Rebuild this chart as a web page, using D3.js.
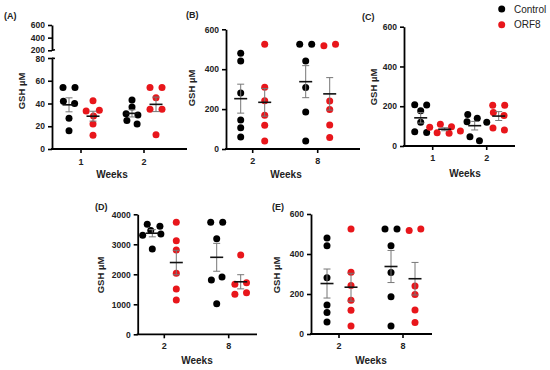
<!DOCTYPE html>
<html>
<head>
<meta charset="utf-8">
<script src="https://cdn.jsdelivr.net/npm/d3@7"></script>
<style>
  body { margin: 0; background: #fff; }
  text { font-family: Arial, "Liberation Sans", sans-serif; }
</style>
</head>
<body>
<div id="chart"></div>
<script>
// ---- data ----
const groups = ["Control", "ORF8"];
const groupColors = ["#000000", "#e8161b"];

// (A)
const weeksA = ["1", "2"];
const aControl1 = [54, 54, 42, 40, 27, 16];
const aOrf1 = [42.5, 34, 33.5, 29, 22, 12];
const aControl2 = [43, 37, 31, 30, 25, 22];
const aOrf2 = [54, 54, 45, 35, 35, 12.5];

// (B) and (E)
const weeksB = ["2", "8"];
const bControl2 = [480, 441, 281, 145, 107, 60];
const bOrf2 = [525, 309, 242, 169, 119, 40];
const bControl8 = [525, 525, 441, 308, 186, 40];
const bOrf8 = [517, 525, 240, 198, 120, 58];

// (C)
const weeksC = ["1", "2"];
const cControl1 = [208, 206, 177, 119, 72, 68];
const cOrf1 = [109, 97, 94, 75, 67, 64];
const cControl2 = [159, 139, 122, 119, 47, 27];
const cOrf2 = [205, 205, 169, 154, 90, 80];

// (D)
const weeksD = ["2", "8"];
const dControl2 = [3667, 3600, 3460, 3343, 3300, 2843];
const dOrf2 = [3733, 3122, 2811, 2033, 1511, 1144];
const dControl8 = [3733, 3733, 3189, 1911, 1811, 1022];
const dOrf8 = [2644, 1720, 1667, 1387, 1333];

const ticksSmall = [0, 200, 400, 600];
const ticksA_low = [0, 20, 40, 60, 80];
const ticksA_high = [200, 400, 600];
const ticksD = [0, 1000, 2000, 3000, 4000];

const svg = d3.select("#chart").append("svg")
  .attr("width", 550)
  .attr("height", 370);

// panel layouts (pixels)
const panels = [
  { label: "(A)", weeks: weeksA, sets: [[aControl1, aOrf1], [aControl2, aOrf2]],
    x0: 52, x1: 187, t0: 81, t1: 144, yBottom: 149, yTop: 58, max: 80, ticks: ticksA_low,
    broken: { top: 25, bottom: 50.3, min: 200, max: 600, ticks: ticksA_high },
    labX: 4, labY: 18.5, ylabX: 25, ylabY: 91, weeksX: 112, weeksY: 178, tickLabY: 165 },
  { label: "(B)", weeks: weeksB, sets: [[bControl2, bOrf2], [bControl8, bOrf8]],
    x0: 226, x1: 360, t0: 252.7, t1: 317.7, yBottom: 149, yTop: 29.3, max: 600, ticks: ticksSmall,
    labX: 186, labY: 18, ylabX: 195, ylabY: 88, weeksX: 286, weeksY: 178, tickLabY: 163.5 },
  { label: "(C)", weeks: weeksC, sets: [[cControl1, cOrf1], [cControl2, cOrf2]],
    x0: 404, x1: 515, t0: 432.7, t1: 486.7, yBottom: 146, yTop: 26.7, max: 600, ticks: ticksSmall,
    labX: 362, labY: 20, ylabX: 377, ylabY: 87, weeksX: 465, weeksY: 176.5, tickLabY: 161 },
  { label: "(D)", weeks: weeksD, sets: [[dControl2, dOrf2], [dControl8, dOrf8]],
    x0: 137.7, x1: 257, t0: 164.3, t1: 228.7, yBottom: 334.3, yTop: 214.3, max: 4000, ticks: ticksD,
    labX: 95, labY: 210, ylabX: 104, ylabY: 275, weeksX: 197, weeksY: 364, tickLabY: 348.5 },
  { label: "(E)", weeks: weeksB, sets: [[bControl2, bOrf2], [bControl8, bOrf8]],
    x0: 311, x1: 432, t0: 339, t1: 403, yBottom: 334, yTop: 214, max: 600, ticks: ticksSmall,
    labX: 272, labY: 210, ylabX: 280, ylabY: 275, weeksX: 371, weeksY: 364, tickLabY: 348.5 }
];

const r = 3.5;
const stretch = 12 / 6.5; // dots side by side sit 12px apart, stacked ones 6.5px

panels.forEach(p => {
  const g = svg.append("g");

  const x = d3.scalePoint().domain(p.weeks).range([p.t0, p.t1]);
  const dx = d3.scalePoint().domain(groups).range([-12, 12]);
  const y = d3.scaleLinear().domain([0, p.max]).range([p.yBottom, p.yTop]);

  // y axis
  const yAxis = g.append("g")
    .attr("transform", `translate(${p.x0},0)`)
    .call(d3.axisLeft(y).tickValues(p.ticks).tickFormat(d3.format("d"))
      .tickSize(4).tickPadding(3).tickSizeOuter(0));
  styleAxis(yAxis);

  // broken upper part of axis for panel A
  if (p.broken) {
    const yb = d3.scaleLinear().domain([p.broken.min, p.broken.max]).range([p.broken.bottom, p.broken.top]);
    const up = g.append("g")
      .attr("transform", `translate(${p.x0},0)`)
      .call(d3.axisLeft(yb).tickValues(p.broken.ticks).tickSize(4).tickPadding(3).tickSizeOuter(0));
    styleAxis(up);
    up.selectAll(".tick text").filter(d => d === p.broken.min).attr("dy", "0.2em");
    yAxis.selectAll(".tick text").filter(d => d === p.max).attr("dy", "0.42em");
    // break marks
    g.append("line").attr("x1", p.x0).attr("x2", p.x0 + 3)
      .attr("y1", p.broken.bottom).attr("y2", p.broken.bottom - 0.5)
      .attr("stroke", "#000").attr("stroke-width", 1.6);
    g.append("line").attr("x1", p.x0).attr("x2", p.x0 + 3)
      .attr("y1", p.yTop).attr("y2", p.yTop + 0.5)
      .attr("stroke", "#000").attr("stroke-width", 1.6);
  }

  // x axis
  const xAxis = g.append("g")
    .attr("transform", `translate(0,${p.yBottom})`);
  xAxis.append("line")
    .attr("x1", p.x0 - 1).attr("x2", p.x1)
    .attr("stroke", "#000").attr("stroke-width", 1.8);
  xAxis.selectAll(".xt")
    .data(p.weeks)
    .join("line")
    .attr("x1", d => x(d)).attr("x2", d => x(d))
    .attr("y1", 0).attr("y2", 4)
    .attr("stroke", "#000").attr("stroke-width", 1.6);
  g.selectAll(".xl")
    .data(p.weeks)
    .join("text")
    .attr("x", d => x(d))
    .attr("y", p.tickLabY)
    .attr("text-anchor", "middle")
    .style("font-size", "9px")
    .style("font-weight", "bold")
    .style("fill", "#222")
    .text(d => d);

  // labels
  g.append("text")
    .attr("x", p.weeksX).attr("y", p.weeksY)
    .attr("text-anchor", "middle")
    .style("font-size", "10px").style("font-weight", "bold").style("fill", "#222")
    .text("Weeks");
  g.append("text")
    .attr("transform", `translate(${p.ylabX},${p.ylabY}) rotate(-90)`)
    .attr("text-anchor", "middle")
    .style("font-size", "9.5px").style("font-weight", "bold").style("fill", "#222")
    .text("GSH µM");
  g.append("text")
    .attr("x", p.labX).attr("y", p.labY)
    .style("font-size", "9px").style("font-weight", "bold").style("fill", "#222")
    .text(p.label);

  // scatter + mean ± SEM
  p.weeks.forEach((w, wi) => {
    groups.forEach((grp, gi) => {
      const vals = p.sets[wi][gi];
      const cx = x(w) + dx(grp);

      // beeswarm: y fixed, x pushed apart (collision in a stretched y space)
      const nodes = vals.map((v, i) => ({ v: v, x: cx + (i % 2 ? 0.1 : -0.1) * (i + 1), fy: y(v) * stretch }));
      const sim = d3.forceSimulation(nodes)
        .force("x", d3.forceX(cx).strength(0.15))
        .force("collide", d3.forceCollide(6).iterations(3))
        .stop();
      for (let k = 0; k < 300; k++) sim.tick();

      g.selectAll(null)
        .data(nodes)
        .join("circle")
        .attr("cx", d => d.x)
        .attr("cy", d => y(d.v))
        .attr("r", r)
        .style("fill", groupColors[gi]);

      const mean = d3.mean(vals);
      const sem = d3.deviation(vals) / Math.sqrt(vals.length);

      // error bar
      g.append("line")
        .attr("x1", cx).attr("x2", cx)
        .attr("y1", y(mean - sem)).attr("y2", y(mean + sem))
        .attr("stroke", "#777").attr("stroke-width", 1);
      [mean - sem, mean + sem].forEach(e => {
        g.append("line")
          .attr("x1", cx - 3.5).attr("x2", cx + 3.5)
          .attr("y1", y(e)).attr("y2", y(e))
          .attr("stroke", "#777").attr("stroke-width", 1);
      });
      // mean line
      g.append("line")
        .attr("x1", cx - 6.5).attr("x2", cx + 6.5)
        .attr("y1", y(mean)).attr("y2", y(mean))
        .attr("stroke", "#111").attr("stroke-width", 1.6);
    });
  });
});

function styleAxis(a) {
  a.select(".domain").attr("stroke", "#000").attr("stroke-width", 1.8);
  a.selectAll(".tick line").attr("stroke", "#000").attr("stroke-width", 1.6);
  a.selectAll(".tick text")
    .style("font-size", "8.5px")
    .style("font-weight", "bold")
    .style("fill", "#222")
    .style("font-family", "Arial, 'Liberation Sans', sans-serif");
}

// legend
const legend = svg.append("g");
legend.selectAll("circle")
  .data(groups)
  .join("circle")
  .attr("cx", 501.7)
  .attr("cy", (d, i) => 9 + i * 15.7)
  .attr("r", r)
  .style("fill", (d, i) => groupColors[i]);
legend.selectAll("text")
  .data(groups)
  .join("text")
  .attr("x", 514)
  .attr("y", (d, i) => 12.5 + i * 15.7)
  .style("font-size", "10px")
  .style("fill", "#222")
  .text(d => d);
</script>
</body>
</html>
